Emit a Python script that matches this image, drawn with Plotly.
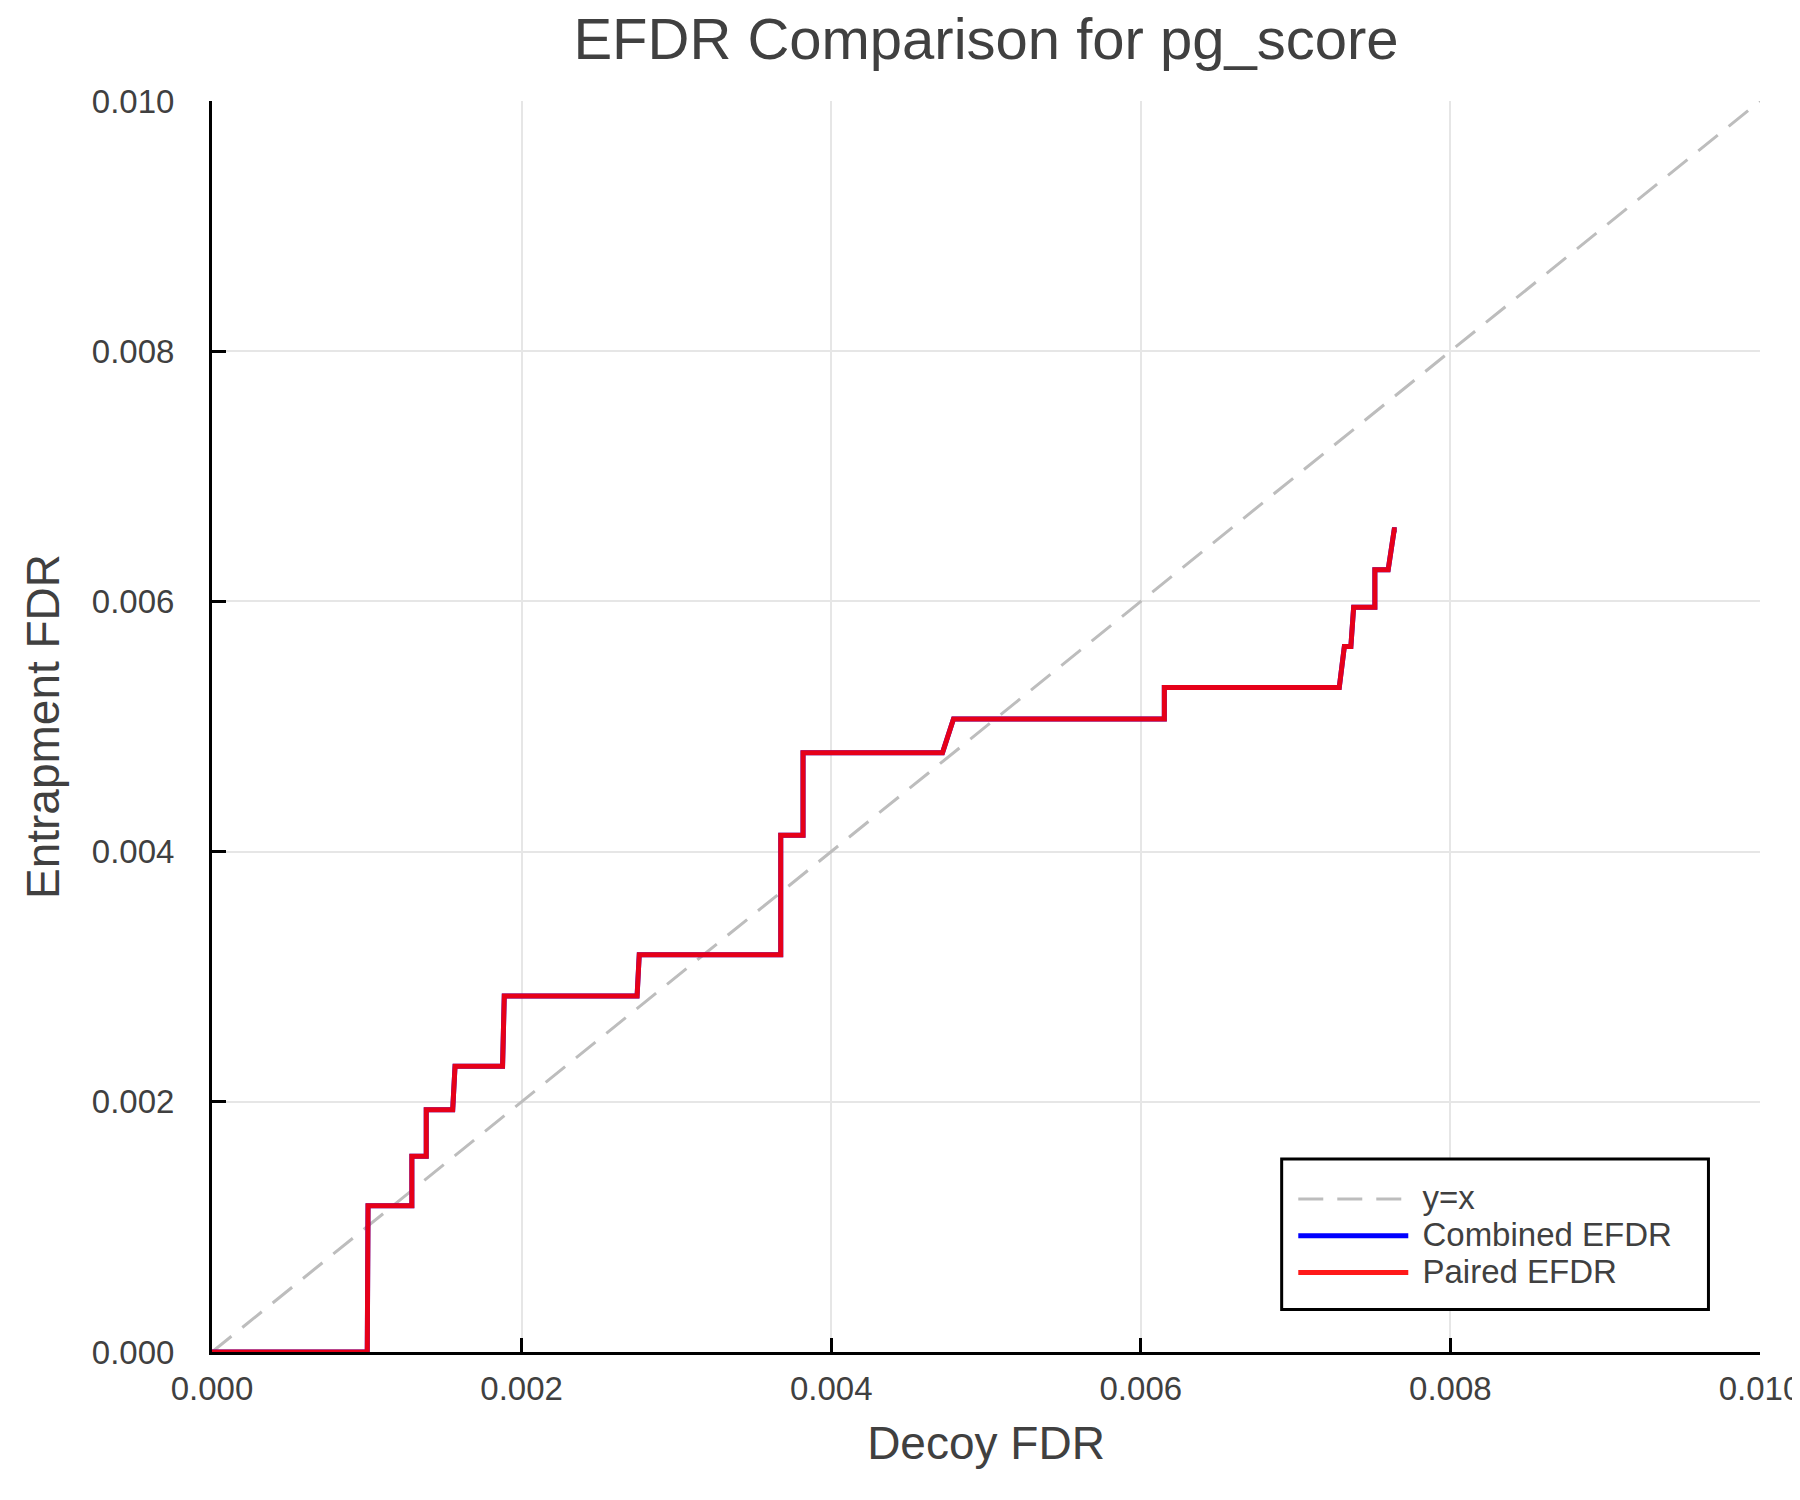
import plotly.graph_objects as go

# step curve vertices
decoy_fdr = [0.0, 0.001003, 0.001008, 0.001291, 0.001291, 0.001384, 0.001384,
             0.001555, 0.00157, 0.001877, 0.001888, 0.002746, 0.00276, 0.003674,
             0.003674, 0.003818, 0.003818, 0.004719, 0.00479, 0.006152, 0.006152,
             0.007282, 0.007315, 0.007357, 0.007375, 0.007512, 0.007512, 0.007598,
             0.007637, 0.007653]
combined_efdr = [0.0, 0.0, 0.001169, 0.001169, 0.001564, 0.001564, 0.001937,
                 0.001937, 0.002285, 0.002285, 0.002845, 0.002845, 0.003176, 0.003176,
                 0.004131, 0.004131, 0.00479, 0.00479, 0.00506, 0.00506, 0.005311,
                 0.005311, 0.005639, 0.005639, 0.005954, 0.005954, 0.006253, 0.006253,
                 0.006573, 0.006573]
paired_efdr = list(combined_efdr)

diag = [0.0, 0.01]
tick_vals = [0.0, 0.002, 0.004, 0.006, 0.008, 0.010]
tick_text = ["0.000", "0.002", "0.004", "0.006", "0.008", "0.010"]

FONT = "Liberation Sans"
TXT = "#404040"


def legend_name(label):
    # bigger text than the legend row height so the rows sit close together
    return "<span style='font-size:33px'>&nbsp;" + label + "</span>"


fig = go.Figure()
fig.add_trace(go.Scatter(x=diag, y=diag, mode="lines", name=legend_name("y=x"),
                         line=dict(color="#bdbdbd", width=3, dash="25px,14px")))
fig.add_trace(go.Scatter(x=decoy_fdr, y=combined_efdr, mode="lines",
                         name=legend_name("Combined EFDR"),
                         line=dict(color="#0000ff", width=5)))
fig.add_trace(go.Scatter(x=decoy_fdr, y=paired_efdr, mode="lines",
                         name=legend_name("Paired EFDR"),
                         line=dict(color="rgba(255,0,0,0.9)", width=5)))

axis_common = dict(
    range=[0, 0.010], tickvals=tick_vals, ticktext=tick_text,
    showgrid=True, gridcolor="#e6e6e6", gridwidth=1.5,
    showline=True, linecolor="black", linewidth=3,
    ticks="inside", ticklen=14, tickwidth=3, tickcolor="black",
    zeroline=False, tickfont=dict(family=FONT, size=33, color=TXT),
    ticklabeloverflow="allow", automargin=False,
)

fig.update_xaxes(**axis_common, ticklabelstandoff=5,
                 title=dict(text="Decoy FDR", font=dict(family=FONT, size=46, color=TXT), standoff=22))
fig.update_yaxes(**axis_common, ticklabelstandoff=28,
                 title=dict(text="Entrapment FDR", font=dict(family=FONT, size=46, color=TXT), standoff=18))

# legend frame (white box with black border, hides the grid behind it)
fig.add_shape(type="rect", xref="paper", yref="paper",
              x0=0.691, x1=0.9667, y0=0.034, y1=0.1543,
              line=dict(color="black", width=3), fillcolor="white", layer="above")

fig.update_layout(
    width=1800, height=1500,
    margin=dict(l=204, r=48, t=93, b=156),
    paper_bgcolor="white", plot_bgcolor="white",
    title=dict(text="EFDR Comparison for pg_score", x=0.5, xref="paper", xanchor="center",
               y=1 - 10 / 1500, yref="container", yanchor="top",
               font=dict(family=FONT, size=58, color=TXT)),
    legend=dict(x=0.6985, y=0.0927, xanchor="left", yanchor="middle",
                bgcolor="rgba(0,0,0,0)", borderwidth=0,
                font=dict(family=FONT, size=26, color=TXT),
                itemwidth=110, tracegroupgap=0),
    showlegend=True,
)

fig.write_html("out.html")
